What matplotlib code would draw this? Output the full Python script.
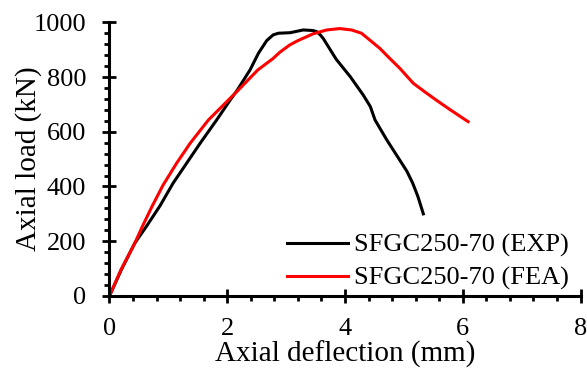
import matplotlib
matplotlib.use("Agg")
import matplotlib.pyplot as plt
from matplotlib.ticker import MultipleLocator

plt.rcParams['font.family'] = ['Liberation Serif', 'DejaVu Serif']

# Load-deflection response, test specimen
exp_deflection = [0, 0.2, 0.43, 0.63, 0.86, 1.08, 1.54, 1.82, 2.05, 2.17, 2.39,
                  2.53, 2.67, 2.78, 2.87, 3.07, 3.29, 3.45, 3.52, 3.58, 3.63,
                  3.85, 4.09, 4.31, 4.43, 4.51, 4.71, 4.91, 5.05, 5.15, 5.24, 5.33]
exp_load = [0, 95, 193, 255, 330, 412, 558, 643, 716, 752, 827,
            887, 933, 954, 960, 962, 972, 970, 966, 954, 941,
            865, 801, 734, 692, 643, 570, 503, 456, 412, 362, 300]

# Load-deflection response, finite element model
fea_deflection = [0, 0.2, 0.43, 0.55, 0.72, 0.91, 1.14, 1.37, 1.68, 2.02, 2.16,
                  2.38, 2.52, 2.78, 2.89, 3.06, 3.2, 3.46, 3.69, 3.91, 4.11,
                  4.28, 4.59, 4.76, 4.93, 5.16, 5.36, 5.56, 5.81, 6.09]
fea_load = [0, 98, 193, 250, 326, 405, 485, 558, 643, 716, 746,
            795, 826, 868, 890, 917, 933, 958, 972, 977, 972,
            960, 905, 868, 832, 777, 745, 714, 677, 637]

series_labels = ['SFGC250-70 (EXP)', 'SFGC250-70 (FEA)']
x_label = 'Axial deflection (mm)'
y_label = 'Axial load (kN)'

fig = plt.figure(figsize=(5.87, 3.69), dpi=100)
ax = fig.add_axes([0.1865, 0.198, 0.8025, 0.7416])

ax.plot(exp_deflection, exp_load, color='black', lw=2.2, label=series_labels[0])
ax.plot(fea_deflection, fea_load, color='#ff0000', lw=2.2, label=series_labels[1])

ax.set_xlim(0, 8)
ax.set_ylim(0, 1000)
ax.xaxis.set_major_locator(MultipleLocator(2))
ax.xaxis.set_minor_locator(MultipleLocator(0.4))
ax.yaxis.set_major_locator(MultipleLocator(200))
ax.yaxis.set_minor_locator(MultipleLocator(40))

for side in ('top', 'right'):
    ax.spines[side].set_visible(False)
for side in ('left', 'bottom'):
    ax.spines[side].set_linewidth(2.2)

ax.tick_params(which='major', direction='inout', length=9.5, width=2.0,
               labelsize=19)
ax.tick_params(axis='x', which='major', pad=11)
ax.tick_params(axis='y', which='major', pad=12)
ax.tick_params(which='minor', direction='out', length=3.8, width=2.0)

ax.set_xlabel(x_label, fontsize=21, labelpad=1)
ax.set_ylabel(y_label, fontsize=21, labelpad=-6)

ax.legend(loc='lower left', bbox_to_anchor=(0.377, 0.02), frameon=False,
          fontsize=19, handlelength=2.3, handletextpad=0.25,
          labelspacing=0.35, borderpad=0.0, borderaxespad=0.0)

fig.savefig('out.png', dpi=100)
